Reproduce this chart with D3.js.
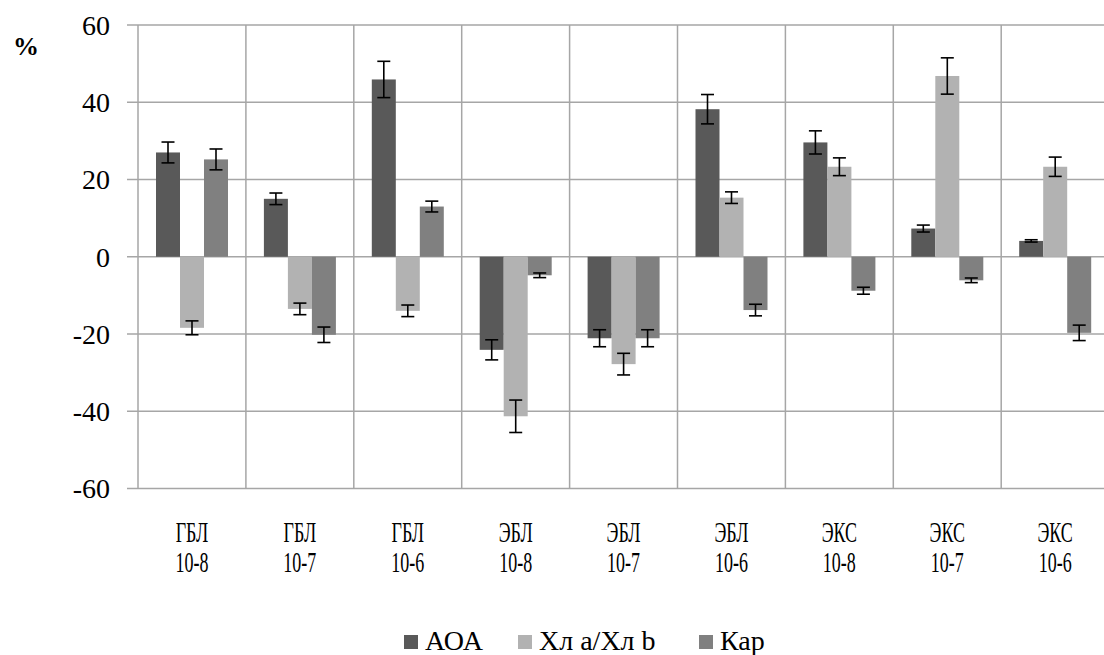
<!DOCTYPE html>
<html>
<head>
<meta charset="utf-8">
<script src="https://cdn.jsdelivr.net/npm/d3@7"></script>
<style>
  body { margin: 0; background: #fff; }
</style>
</head>
<body>
<svg id="chart" width="1104" height="655"></svg>
<script>
//
// Data
//
var groups = ['ГБЛ', 'ГБЛ', 'ГБЛ', 'ЭБЛ', 'ЭБЛ', 'ЭБЛ', 'ЭКС', 'ЭКС', 'ЭКС']
var doses = ['10-8', '10-7', '10-6', '10-8', '10-7', '10-6', '10-8', '10-7', '10-6']
var seriesNames = ['АОА', 'Хл a/Хл b', 'Кар']
var aoa = [27, 15, 45.9, -24.1, -21.1, 38.2, 29.6, 7.3, 4.1]
var aoaErr = [2.7, 1.5, 4.7, 2.6, 2.2, 3.8, 3, 0.9, 0.3]
var chl = [-18.4, -13.5, -14, -41.3, -27.8, 15.3, 23.3, 46.8, 23.3]
var chlErr = [1.8, 1.5, 1.5, 4.2, 2.8, 1.5, 2.3, 4.7, 2.5]
var kar = [25.2, -20.2, 13, -4.8, -21.1, -13.8, -8.8, -6.1, -19.7]
var karErr = [2.7, 2, 1.4, 0.6, 2.2, 1.5, 0.9, 0.6, 2]
var yTicks = [-60, -40, -20, 0, 20, 40, 60]

//
// Layout
//
var font = "'Liberation Serif', 'Times New Roman', serif"
var colors = ['#595959', '#b2b2b2', '#808080']
var colorGrid = '#a6a6a6'
var plotLeft = 138, plotTop = 25, plotBottom = 488.5
var bandW = 107.9

var svg = d3.select('#chart').attr('font-family', font)
var cats = d3.range(groups.length)
var values = [aoa, chl, kar]
var errs = [aoaErr, chlErr, karErr]

var x = d3.scaleBand().domain(cats).range([plotLeft, plotLeft + bandW * cats.length])
var xs = d3.scaleBand().domain([0, 1, 2]).range([18, 90])
var y = d3.scaleLinear().domain([-60, 60]).range([plotBottom, plotTop])

// horizontal grid + tick marks
svg.append('g').selectAll('line').data(yTicks).join('line')
  .attr('x1', 127).attr('x2', x.range()[1])
  .attr('y1', d => y(d)).attr('y2', d => y(d))
  .attr('stroke', colorGrid).attr('stroke-width', 1.5)

// vertical category separators
svg.append('g').selectAll('line').data(d3.range(cats.length + 1)).join('line')
  .attr('x1', d => plotLeft + d * bandW).attr('x2', d => plotLeft + d * bandW)
  .attr('y1', plotTop).attr('y2', plotBottom)
  .attr('stroke', colorGrid).attr('stroke-width', 1.5)

// y tick labels
svg.append('g').selectAll('text').data(yTicks).join('text')
  .attr('x', 110).attr('y', d => y(d)).attr('dy', '0.35em')
  .attr('text-anchor', 'end').attr('font-size', 28).attr('fill', '#000')
  .text(d => d)

svg.append('text').attr('x', 26).attr('y', 55).attr('text-anchor', 'middle')
  .attr('font-size', 26).attr('font-weight', 'bold').text('%')

// bars
values.forEach(function(vals, s) {
  var g = svg.append('g')
  g.selectAll('rect').data(cats).join('rect')
    .attr('x', i => x(i) + xs(s))
    .attr('width', xs.bandwidth())
    .attr('y', i => y(Math.max(0, vals[i])))
    .attr('height', i => Math.abs(y(vals[i]) - y(0)))
    .attr('fill', colors[s])
})

// error bars
values.forEach(function(vals, s) {
  var g = svg.append('g').attr('stroke', '#000').attr('stroke-width', 1.6)
  cats.forEach(function(i) {
    var cx = x(i) + xs(s) + xs.bandwidth() / 2
    var lo = y(vals[i] - errs[s][i]), hi = y(vals[i] + errs[s][i])
    g.append('line').attr('x1', cx).attr('x2', cx).attr('y1', lo).attr('y2', hi)
    g.append('line').attr('x1', cx - 6.5).attr('x2', cx + 6.5).attr('y1', lo).attr('y2', lo)
    g.append('line').attr('x1', cx - 6.5).attr('x2', cx + 6.5).attr('y1', hi).attr('y2', hi)
  })
})

// category labels (condensed like the source), two lines in one text
var xl = svg.append('g')
cats.forEach(function(i) {
  var cx = x(i) + bandW / 2
  var t = xl.append('text')
    .attr('transform', 'translate(' + cx + ',0) scale(0.6,1)')
    .attr('text-anchor', 'middle').attr('font-size', 30)
  t.append('tspan').attr('x', 0).attr('y', 542).text(groups[i])
  t.append('tspan').attr('x', 0).attr('y', 572).text(doses[i])
})

// legend
var legendX = [404, 518, 699]
var lg = svg.append('g')
seriesNames.forEach(function(name, s) {
  lg.append('rect').attr('x', legendX[s]).attr('y', 635).attr('width', 14).attr('height', 14)
    .attr('fill', colors[s])
  lg.append('text').attr('x', legendX[s] + 21).attr('y', 650).attr('font-size', 28)
    .text(name)
})
</script>
</body>
</html>
